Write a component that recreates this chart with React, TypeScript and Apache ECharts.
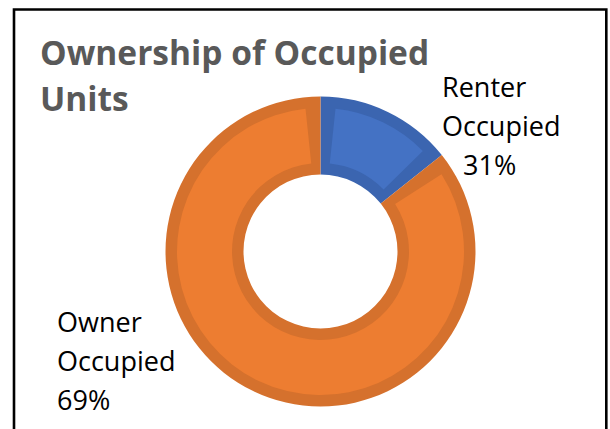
import React, { useEffect, useRef } from 'react';
import * as echarts from 'echarts';

const categories = ['Renter Occupied', 'Owner Occupied'];
// share of the ring each slice occupies, as drawn
const sliceShares = [14.3, 85.7];
// percentages printed in the labels
const labelPercents = [31, 69];
const labelFirstLines = ['Renter', 'Owner'];
const labelSecondLines = ['Occupied', 'Occupied'];
const titleText = 'Ownership of Occupied\nUnits';

const fillColors = ['#4472C4', '#ED7D31'];
const edgeColors = ['#3B65B0', '#D5712D'];

const CENTER = [320.5, 251.5];
const FONT = '"Open Sans", "Noto Sans", sans-serif';

export default function App() {
  const ref = useRef<HTMLDivElement>(null);
  useEffect(() => {
    if (!ref.current) return;
    const chart = echarts.init(ref.current, undefined, { renderer: 'svg' });
    const edgeData = categories.map((name, i) => ({
      name,
      value: sliceShares[i],
      itemStyle: { color: edgeColors[i] },
    }));
    const fillData = categories.map((name, i) => ({
      name,
      value: sliceShares[i],
      itemStyle: { color: fillColors[i] },
    }));
    const labelPos = [
      { x: 442, y: 67 },
      { x: 57, y: 302 },
    ];
    chart.setOption({
      animation: false,
      backgroundColor: '#ffffff',
      title: {
        text: titleText,
        left: 40,
        top: 29,
        padding: 0,
        textStyle: {
          fontFamily: FONT,
          fontWeight: 'bold',
          fontSize: 33.5,
          lineHeight: 46,
          color: '#595959',
        },
      },
      graphic: [
        {
          type: 'rect',
          shape: { x: 14, y: 9.5, width: 592.3, height: 440 },
          style: { fill: 'none', stroke: '#000000', lineWidth: 2.6 },
          silent: true,
        },
      ],
      series: [
        {
          type: 'pie',
          name: 'edges',
          center: CENTER,
          radius: [77, 155],
          startAngle: 90,
          clockwise: true,
          silent: true,
          data: edgeData,
          label: {
            show: true,
            position: 'outside',
            fontFamily: FONT,
            fontSize: 27,
            lineHeight: 39,
            color: '#000000',
            align: 'left',
            formatter: (p: any) => {
              const i = p.dataIndex;
              const pct = labelPercents[i] + '%';
              return i === 0
                ? `{a|${labelFirstLines[i]}}\n{a|${labelSecondLines[i]}}\n{b|${pct}}`
                : `{a|${labelFirstLines[i]}}\n{a|${labelSecondLines[i]}}\n{a|${pct}}`;
            },
            rich: {
              a: { fontFamily: FONT, fontSize: 27, lineHeight: 39, color: '#000000' },
              b: { fontFamily: FONT, fontSize: 27, lineHeight: 39, color: '#000000', padding: [0, 0, 0, 21] },
            },
          },
          labelLine: { show: false },
          labelLayout: (params: any) => ({
            x: labelPos[params.dataIndex].x,
            y: labelPos[params.dataIndex].y,
            align: 'left',
            verticalAlign: 'top',
          }),
          emphasis: { disabled: true },
        },
        {
          type: 'pie',
          name: 'fills',
          center: CENTER,
          radius: [88.5, 143.5],
          startAngle: 90,
          clockwise: true,
          padAngle: 12,
          silent: true,
          data: fillData,
          label: { show: false },
          labelLine: { show: false },
          emphasis: { disabled: true },
        },
      ],
    });
    return () => chart.dispose();
  }, []);
  return (
    <div
      ref={ref}
      style={{ position: 'fixed', left: 0, top: 0, width: 610, height: 429 }}
    />
  );
}
